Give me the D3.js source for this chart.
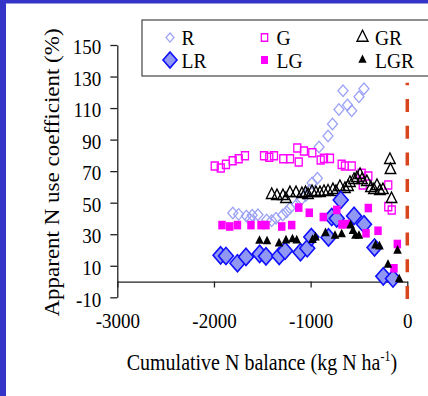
<!DOCTYPE html>
<html>
<head>
<meta charset="utf-8">
<script src="https://cdn.jsdelivr.net/npm/d3@7"></script>
<style>
  html, body { margin: 0; padding: 0; background: #fff; }
  svg { display: block; }
  text { font-family: "Liberation Serif", "Times New Roman", serif; fill: #000; }
</style>
</head>
<body>
<svg id="chart"></svg>
<script>
// tick values
const xTicks = [-3000, -2000, -1000, 0];
const yTicks = [-10, 10, 30, 50, 70, 90, 110, 130, 150];

// [cumulative N balance, apparent N use coefficient]
const seriesR = [
  [-1805, 43.4], [-1745, 42.6], [-1665, 41.5], [-1627, 39.5], [-1605, 42.0], [-1545, 42.4],
  [-1455, 39.0], [-1403, 38.6], [-1358, 40.1], [-1289, 42.2], [-1248, 44.3], [-1213, 46.6],
  [-1144, 48.8], [-1105, 51.5], [-1050, 54.5], [-1010, 58.0], [-985, 62.5], [-930, 65.5],
  [-913, 85.3], [-820, 92.3], [-774, 99.9], [-707, 109.1], [-665, 121.0], [-619, 111.9],
  [-575, 108.3], [-500, 117.2], [-448, 122.3]
];
const seriesG = [
  [-1992, 73.3], [-1930, 72.0], [-1876, 74.3], [-1806, 76.6], [-1744, 77.9], [-1679, 79.8],
  [-1482, 79.8], [-1428, 78.8], [-1379, 79.8], [-1283, 77.9], [-1213, 77.9], [-1123, 75.8],
  [-1138, 84.7], [-1069, 82.8], [-983, 81.7], [-896, 77.1], [-862, 78.1], [-800, 78.1],
  [-679, 74.3], [-645, 73.3], [-575, 73.3], [-472, 68.6], [-403, 66.9], [-461, 61.2],
  [-197, 61.2], [-197, 47.5], [-161, 45.4]
];
const seriesGR = [
  [-1403, 54.9], [-1348, 54.2], [-1286, 54.2], [-1255, 52.3], [-1214, 56.1], [-1151, 56.1],
  [-1090, 55.5], [-1053, 56.1], [-1027, 54.9], [-986, 56.8], [-945, 56.1], [-903, 56.1],
  [-862, 56.8], [-820, 57.1], [-769, 58.0], [-738, 56.8], [-697, 60.0], [-645, 58.7],
  [-613, 60.0], [-593, 62.5], [-551, 64.4], [-521, 65.6], [-489, 67.6], [-469, 64.4],
  [-418, 63.1], [-376, 59.3], [-345, 58.0], [-314, 60.6], [-283, 57.4], [-252, 58.0],
  [-180, 77.1], [-174, 70.7], [-163, 52.3]
];
const seriesLR = [
  [-1932, 16.6], [-1876, 16.2], [-1757, 11.6], [-1669, 15.6], [-1527, 17.5], [-1462, 16.0],
  [-1325, 16.2], [-1265, 19.5], [-1105, 18.6], [-1035, 21.1], [-993, 28.2], [-815, 28.0],
  [-782, 40.9], [-730, 40.0], [-689, 51.7], [-551, 41.6], [-448, 36.3], [-339, 21.6],
  [-248, 3.3], [-148, 1.9]
];
const seriesLG = [
  [-1917, 35.8], [-1837, 34.9], [-1757, 35.8], [-1617, 35.8], [-1513, 35.8], [-1462, 35.8],
  [-1299, 34.9], [-1196, 35.8], [-1123, 46.9], [-1014, 43.6], [-869, 40.9], [-730, 45.4],
  [-676, 36.2], [-630, 36.5], [-403, 46.6], [-427, 30.6], [-303, 32.2], [-103, 23.8],
  [-138, 8.4]
];
const seriesLGR = [
  [-1529, 25.7], [-1451, 25.4], [-1327, 24.1], [-1255, 26.0], [-1188, 26.7], [-1144, 26.0],
  [-981, 26.3], [-950, 27.9], [-846, 30.6], [-748, 28.9], [-679, 29.9], [-586, 35.5],
  [-562, 32.0], [-536, 28.9], [-500, 28.9], [-329, 22.8], [-288, 22.2], [-200, 10.5],
  [-101, 19.5], [-84, 1.3]
];
const legendNames = ["R", "G", "GR", "LR", "LG", "LGR"];

function draw() {
  const width = 428;
  const height = 396;
  const stretch = 1.15; // the original picture is a bit taller than wide

  const svg = d3.select("#chart").attr("width", width).attr("height", height);

  // blue frame at left / top
  svg.append("rect").attr("width", width).attr("height", height).attr("fill", "#3434c8");
  svg.append("rect").attr("x", 6).attr("y", 3.5)
    .attr("width", width - 6).attr("height", height - 3.5).attr("fill", "#fff");

  const x = d3.scaleLinear().domain([-3000, 0]).range([117.3, 407.3]);
  const y = d3.scaleLinear().domain([-10, 150]).range([297.3, 45]);
  const plain = (d) => String(d);

  // axes
  const yAxis = svg.append("g")
    .attr("transform", `translate(${x(-3000)},0)`)
    .call(d3.axisLeft(y).tickValues(yTicks).tickFormat(plain)
      .tickSize(7).tickPadding(9).tickSizeOuter(0));
  yAxis.selectAll("text")
    .attr("dy", "0.4em")
    .attr("transform", `scale(1,${stretch})`);

  const xAxis = svg.append("g")
    .attr("transform", `translate(0,${y(0)})`)
    .call(d3.axisBottom(x).tickValues(xTicks).tickFormat(plain)
      .tickSize(6).tickSizeOuter(0));
  xAxis.selectAll("text")
    .attr("dy", 0)
    .attr("y", (328 - y(0)) / stretch)
    .attr("transform", `scale(1,${stretch})`);

  svg.selectAll(".domain, .tick line").attr("stroke", "#222").attr("stroke-width", 1.3);
  svg.selectAll("g").attr("font-family", null);
  svg.selectAll(".tick text").attr("font-size", 19).attr("fill", "#000");

  // axis titles
  const xt = svg.append("text")
    .attr("transform", `translate(126.7,370) scale(1,${stretch})`)
    .attr("font-size", 20);
  xt.append("tspan").text("Cumulative N balance (kg N ha");
  xt.append("tspan").attr("font-size", 12).attr("dy", -8).text("-1");
  xt.append("tspan").attr("dy", 8).text(")");

  svg.append("text")
    .attr("transform", `translate(59,172.5) rotate(-90) scale(${stretch},1)`)
    .attr("text-anchor", "middle")
    .attr("font-size", 20)
    .text("Apparent N use coefficient (%)");

  // marker styles
  const styles = {
    R:   { type: d3.symbolSquare,   size: 50,  rot: 45, fill: "none",    stroke: "#9ba2f6", sw: 1.2 },
    G:   { type: d3.symbolSquare,   size: 49,  rot: 0,  fill: "none",    stroke: "#ff00ff", sw: 1.3 },
    GR:  { type: d3.symbolTriangle, size: 48,  rot: 0,  fill: "none",    stroke: "#000",    sw: 1.3 },
    LR:  { type: d3.symbolSquare,   size: 112, rot: 45, fill: "#9198f4", stroke: "#1010ff", sw: 1.5 },
    LG:  { type: d3.symbolSquare,   size: 56,  rot: 0,  fill: "#ff00ff", stroke: "none",    sw: 0 },
    LGR: { type: d3.symbolTriangle, size: 32,  rot: 0,  fill: "#000",    stroke: "none",    sw: 0 }
  };
  const dataByName = { R: seriesR, G: seriesG, GR: seriesGR, LR: seriesLR, LG: seriesLG, LGR: seriesLGR };

  const marks = svg.append("g");
  legendNames.forEach((name) => {
    const st = styles[name];
    marks.append("g")
      .selectAll("path")
      .data(dataByName[name])
      .join("path")
      .attr("d", d3.symbol().type(st.type).size(st.size))
      .attr("transform", (d) => `translate(${x(d[0])},${y(d[1])}) scale(1,${stretch}) rotate(${st.rot})`)
      .attr("fill", st.fill)
      .attr("stroke", st.stroke)
      .attr("stroke-width", st.sw);
  });

  // dashed line at zero balance, drawn from the bottom upwards
  svg.append("line")
    .attr("x1", x(0)).attr("x2", x(0))
    .attr("y1", y(-11)).attr("y2", y(126))
    .attr("stroke", "#d8441c")
    .attr("stroke-width", 3.5)
    .attr("stroke-dasharray", "13,13.7");

  // legend
  const legend = svg.append("g");
  legend.append("rect")
    .attr("x", 142).attr("y", 20).attr("width", 320).attr("height", 56)
    .attr("fill", "#fff").attr("stroke", "#444").attr("stroke-width", 1.2);

  const legendSizes = { R: 32, G: 40, GR: 52, LR: 98, LG: 49, LGR: 30 };
  const colX = [170, 264.5, 362.5];
  const textX = [181.5, 276.5, 375];
  const rowY = [37.5, 60];
  const baseY = [45, 67.5];

  legendNames.forEach((name, i) => {
    const st = styles[name];
    const c = i % 3;
    const r = Math.floor(i / 3);
    legend.append("path")
      .attr("d", d3.symbol().type(st.type).size(legendSizes[name]))
      .attr("transform", `translate(${colX[c]},${rowY[r]}) scale(1,${stretch}) rotate(${st.rot})`)
      .attr("fill", st.fill)
      .attr("stroke", st.stroke)
      .attr("stroke-width", st.sw);
    legend.append("text")
      .attr("transform", `translate(${textX[c]},${baseY[r]}) scale(1,1.08)`)
      .attr("font-size", 19.5)
      .text(name);
  });
}
draw();
</script>
</body>
</html>
